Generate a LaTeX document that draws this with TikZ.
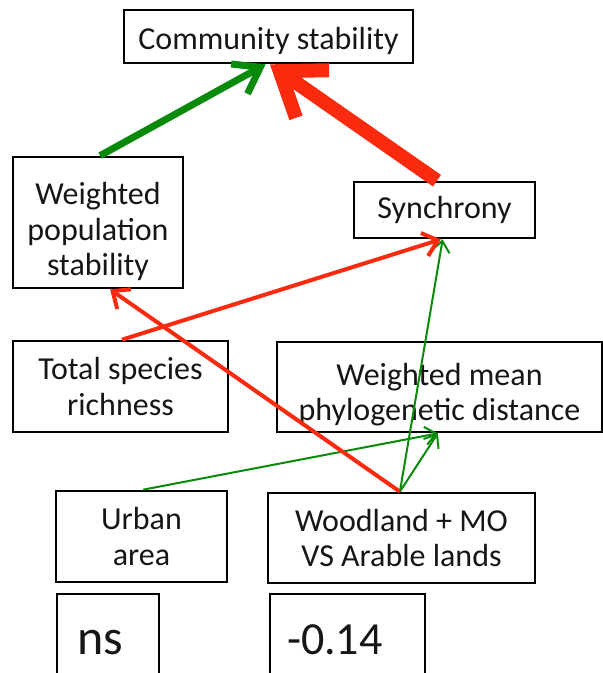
\documentclass[tikz,border=0pt]{standalone}
\usepackage{fontspec}
\setmainfont{Carlito}
\usetikzlibrary{arrows.meta,calc}
\definecolor{posgreen}{RGB}{10,138,10}
\definecolor{negred}{RGB}{250,42,15}
\definecolor{ink}{RGB}{22,22,22}
% extra room above the first text line of a box
\newcommand{\toproom}[1]{\rule{0pt}{#1}}
\begin{document}
\begin{tikzpicture}[x=1pt,y=-1pt,
  box/.style={draw=black, line width=2.7pt, inner sep=0pt, align=center,
    text=ink, font=\fontsize{32}{35.5}\selectfont},
  valbox/.style={draw=black, line width=1.4pt, inner ysep=0pt, align=left,
    text=ink, font=\fontsize{46}{50}\selectfont, text height=38pt, text depth=0pt},
  posthin/.style={draw=posgreen, line width=2pt,
    -{Straight Barb[length=11pt,width=18pt]}},
  negmid/.style={draw=negred, line width=4pt,
    -{Straight Barb[length=14pt,width=24pt]}},
  posthick/.style={draw=posgreen, line width=7pt,
    -{Straight Barb[length=24pt,width=34pt]}},
  negthick/.style={draw=negred, line width=14pt,
    -{Straight Barb[length=40pt,width=58pt]}}
]
\useasboundingbox (0,0) rectangle (603,673);

% variables
\node[box, minimum width=289pt, minimum height=53pt] (comm) at (268.5,36.5) {\toproom{32pt}Community stability};
\node[box, minimum width=170pt, minimum height=131pt] (wps) at (98,222.5) {\toproom{41pt}Weighted\\population\\stability};
\node[box, minimum width=181pt, minimum height=56pt] (sync) at (444.5,210) {Synchrony};
\node[box, minimum width=215pt, minimum height=91pt] (tsr) at (120.5,386.5) {Total species\\richness};
\node[box, minimum width=325pt, minimum height=90pt] (wmpd) at (439.5,387) {\toproom{37pt}Weighted mean\\phylogenetic distance};
\node[box, minimum width=171pt, minimum height=91pt] (urb) at (141.5,536.5) {Urban\\area};
\node[box, minimum width=267pt, minimum height=90pt] (wood) at (401.5,538) {Woodland + MO\\VS Arable lands};

% path coefficients
\node[valbox, inner xsep=20pt, text width=62pt, minimum height=82pt,
  font=\fontsize{50}{54}\selectfont] (ns) at (108,635) {ns};
\node[valbox, inner xsep=17pt, text width=121pt, minimum height=82pt] (coef) at (347.5,635) {-0.14};

% effects
\draw[posthin] ($(urb.north west)!0.51!(urb.north east)$) -- ($(wmpd.south west)!0.495!(wmpd.south east)$);
\draw[posthin] ($(wood.north west)!0.494!(wood.north east)$) -- ($(wmpd.south west)!0.495!(wmpd.south east)$);
\draw[posthin] ($(wood.north west)!0.494!(wood.north east)$) -- ($(sync.south west)!0.49!(sync.south east)$);
\draw[negmid] ($(wood.north west)!0.494!(wood.north east)$) -- ($(wps.south west)!0.57!(wps.south east)$);
\draw[negmid] ($(tsr.north west)!0.507!(tsr.north east)$) -- ($(sync.south west)!0.48!(sync.south east)$);
\draw[posthick] ($(wps.north west)!0.512!(wps.north east)$) -- ($(comm.south west)!0.49!(comm.south east)$);
\draw[negthick] ($(sync.north west)!0.459!(sync.north east)$) -- ($(comm.south west)!0.505!(comm.south east)$);
\end{tikzpicture}
\end{document}
